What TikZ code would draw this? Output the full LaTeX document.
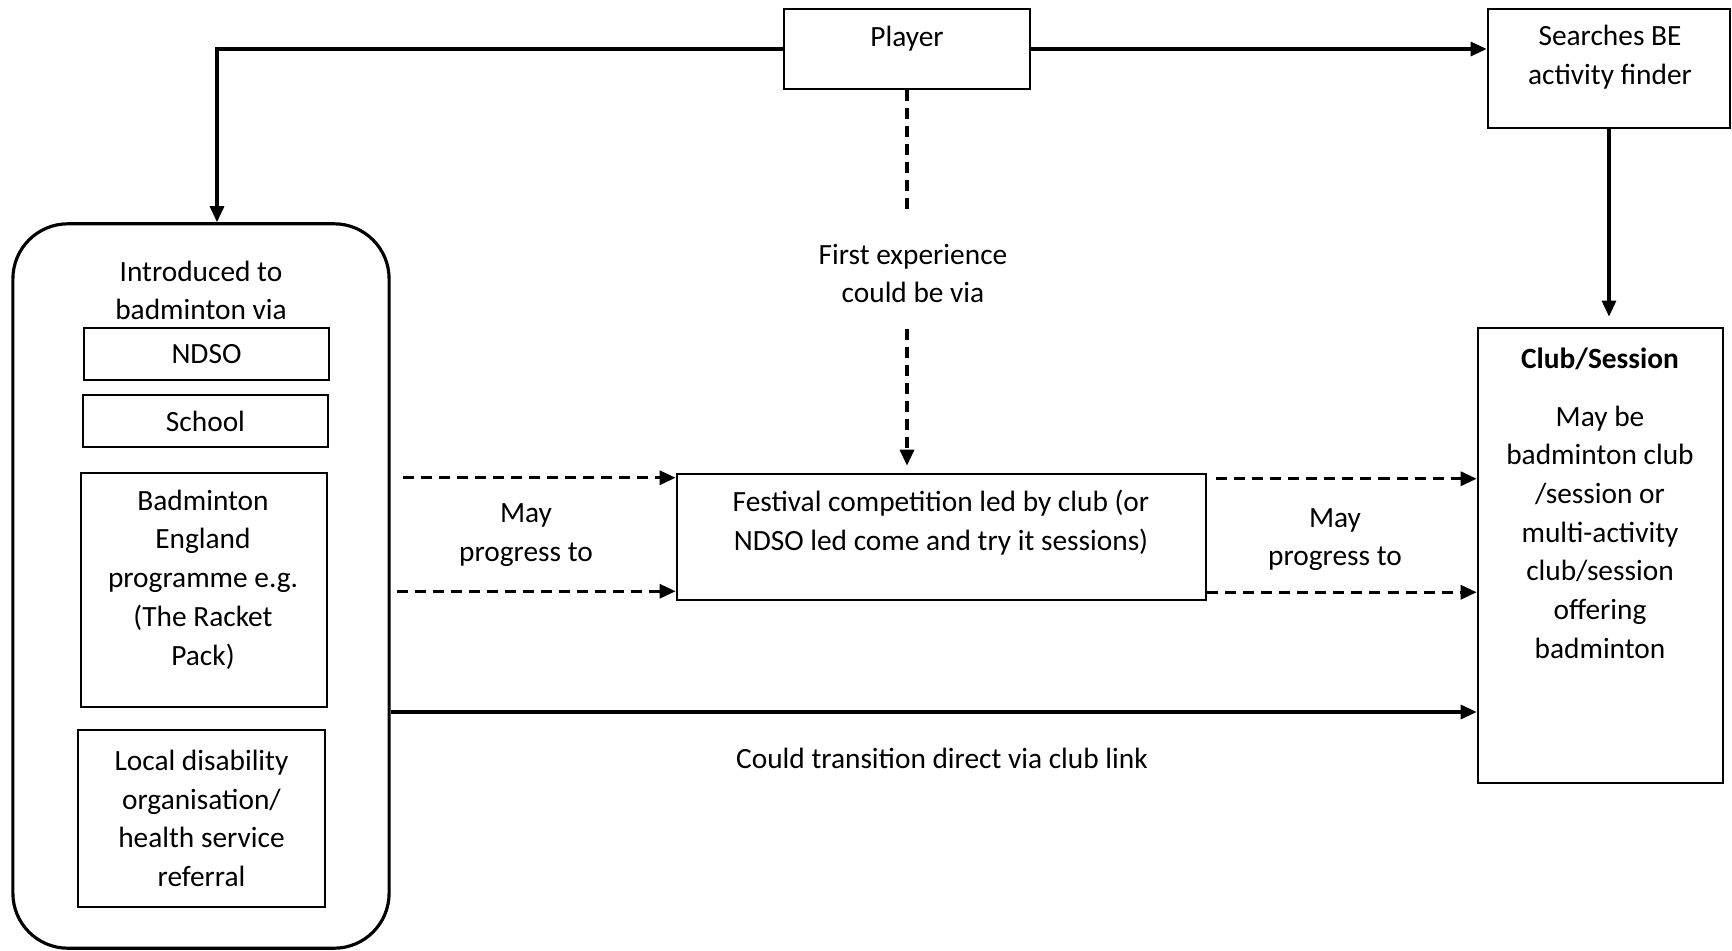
\documentclass[tikz,border=0pt]{standalone}
\usepackage{fontspec}
\setmainfont{Carlito}
\usetikzlibrary{arrows.meta}

\begin{document}
\begin{tikzpicture}[x=0.01cm, y=-0.01cm,
		every node/.style={font=\fontsize{8.35}{11}\selectfont, inner sep=0pt},
		box/.style={draw, rectangle, line width=0.7pt},
		txt/.style={align=center},
		arr/.style={line width=0.9pt, -{Triangle[length=0.16cm, width=0.14cm]}},
		darr/.style={arr, dash pattern=on 0.11cm off 0.07cm},
		dline/.style={line width=0.9pt, dash pattern=on 0.11cm off 0.07cm}]
	\useasboundingbox (0,0) rectangle (1732,951);

	\node[box, minimum width=2.46cm, minimum height=0.80cm] (P) at (907, 49) {};
	\node (Pt) at (907, 39) {Player};
	\node[box, minimum width=2.42cm, minimum height=1.19cm] (S) at (1609, 68.5) {};
	\node[txt] (St) at (1610, 57.5) {Searches BE\\activity finder};

	\node[box, rounded corners=0.55cm, line width=0.9pt, minimum width=3.76cm, minimum height=7.24cm] (I) at (201, 586) {};
	\node[txt] (It) at (201, 290.5) {Introduced to\\badminton via};
	\node[box, minimum width=2.45cm, minimum height=0.52cm] (N) at (206.5, 354) {NDSO};
	\node[box, minimum width=2.45cm, minimum height=0.52cm] (Sc) at (205.5, 421) {School};
	\node[box, minimum width=2.46cm, minimum height=2.34cm] (B) at (204, 590) {};
	\node[txt] (Bt) at (203, 579.5) {Badminton\\England\\programme e.g.\\(The Racket\\Pack)};
	\node[box, txt, minimum width=2.47cm, minimum height=1.77cm] (L) at (201.5, 818.5) {Local disability\\organisation/\\health service\\referral};

	\node[box, minimum width=5.29cm, minimum height=1.26cm] (F) at (941.5, 537) {};
	\node[txt] (Ft) at (941, 522.5) {Festival competition led by club (or\\NDSO led come and try it sessions)};

	\node[box, minimum width=2.45cm, minimum height=4.55cm] (C) at (1600.5, 555.5) {};
	\node[txt] (Ct) at (1600, 503) {\textbf{Club/Session}\\[0.19cm]May be\\badminton club\\/session or\\multi-activity\\club/session\\offering\\badminton};

	\node[txt] (E) at (913, 273.5) {First experience\\could be via};
	\node[txt] (M1) at (526, 535) {May\\progress to};
	\node[txt] (M2) at (1335, 539.5) {May\\progress to};
	\node (D) at (942, 758) {Could transition direct via club link};

	\coordinate (f1) at ([yshift=-0.05cm]F.north west);
	\coordinate (f2) at ([yshift=0.1cm]F.south west);
	\coordinate (f3) at ([yshift=-0.06cm]F.north east);
	\coordinate (f4) at ([yshift=0.09cm]F.south east);
	\coordinate (t) at (0, 712);

	\draw[arr] (P.east) -- (P.east -| S.west);
	\draw[arr] (P.west) -| ([xshift=0.16cm]I.north);
	\draw[arr, shorten >=0.1cm] (S.south) -- (S.south |- C.north);
	\draw[dline, shorten >=0.28cm] (P.south) -- (P.south |- E.north);
	\draw[darr, shorten <=0.25cm, shorten >=0.07cm] (P.south |- E.south) -- (P.south |- F.north);
	\draw[darr, shorten <=0.12cm] (f1 -| I.east) -- (f1);
	\draw[darr, shorten <=0.06cm] (f2 -| I.east) -- (f2);
	\draw[darr, shorten <=0.09cm] (f3) -- (f3 -| C.west);
	\draw[darr] (f4) -- (f4 -| C.west);
	\draw[arr] (I.east |- t) -- (C.west |- t);
\end{tikzpicture}
\end{document}
